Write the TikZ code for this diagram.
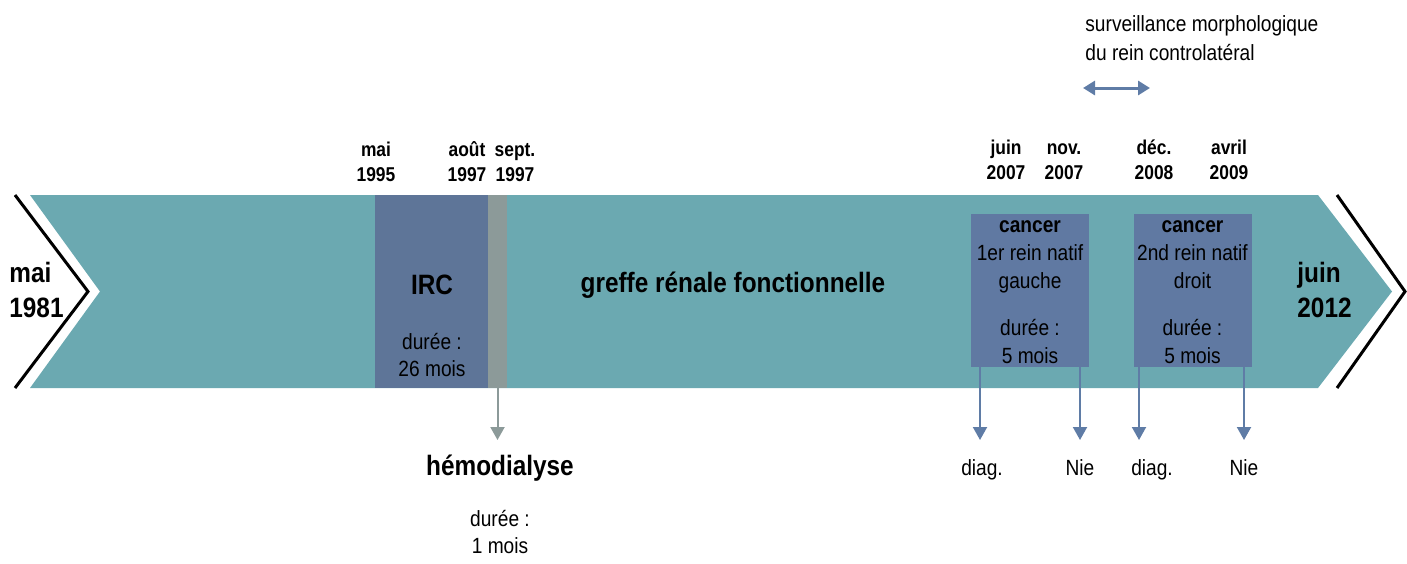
\documentclass[tikz,border=0pt]{standalone}
\usepackage{fontspec}
\setmainfont{Liberation Sans}[FakeStretch=0.87]
\usetikzlibrary{arrows.meta,positioning,calc}
\definecolor{Teal}{HTML}{6BA9B1}
\definecolor{Slate}{HTML}{5E7598}
\definecolor{Steel}{HTML}{6079A2}
\definecolor{Ash}{HTML}{8C9A99}
\definecolor{ArrowBlue}{HTML}{5F7CA6}

\begin{document}
\begin{tikzpicture}[x=0.5pt,y=-0.5pt,
  period/.style={fill=Slate,inner sep=0pt,minimum width=56.5pt,minimum height=96.5pt},
  dialysis/.style={fill=Ash,inner sep=0pt,minimum width=9.5pt,minimum height=96.5pt},
  cancerbox/.style={fill=Steel,inner sep=0pt,minimum width=59pt,minimum height=76.5pt},
  bigbold/.style={font=\bfseries\fontsize{14}{17.5}\selectfont,inner sep=1pt},
  datelbl/.style={font=\bfseries\fontsize{10}{12.5}\selectfont,align=center,inner sep=1pt},
  txt/.style={font=\fontsize{11}{13.5}\selectfont,align=center,inner sep=1pt},
  chevron/.style={line width=1.5pt,draw=black},
  down/.style={-{Triangle[length=6.5pt,width=7pt]},line width=1pt,draw=ArrowBlue},
  grayarrow/.style={-{Triangle[length=6.5pt,width=7pt]},line width=1pt,draw=Ash},
  both/.style={{Triangle[length=6pt,width=7pt]}-{Triangle[length=6pt,width=7pt]},line width=1.5pt,draw=ArrowBlue}
]
  \useasboundingbox (0,0) rectangle (1407,563);
  % timeline band
  \fill[Teal] (30,195) -- (1318,195) -- (1392,291.5) -- (1318,388) -- (30,388) -- (100,291.5) -- cycle;
  \draw[chevron] (15,195) -- (88,291.5) -- (15,388);
  \draw[chevron] (1337,195) -- (1405,291.5) -- (1337,388);
  % periods
  \node[period] (irc) at (431.5,291.5) {};
  \node[dialysis] (hd) at (497.5,291.5) {};
  \node[cancerbox] (c1) at (1030,290.5) {};
  \node[cancerbox] (c2) at (1192.5,290.5) {};
  % labels on the band
  \node[bigbold,align=left,anchor=west] (start) at (7,290) {mai\\1981};
  \node[bigbold,align=left,anchor=west] (stop) at (1295,290) {juin\\2012};
  \node[bigbold] (greffe) at (733,285) {greffe rénale fonctionnelle};
  \node[bigbold] (irclbl) at (432,285) {IRC};
  \node[txt] (ircdur) at (432,355) {durée :\\26 mois};
  \node[txt,font=\fontsize{11}{14.2}\selectfont] (c1txt) at (1030,292) {\textbf{cancer}\\1er rein natif\\gauche\\[9pt]durée :\\5 mois};
  \node[txt,font=\fontsize{11}{14.2}\selectfont] (c2txt) at (1192.5,292) {\textbf{cancer}\\2nd rein natif\\droit\\[9pt]durée :\\5 mois};
  % dates
  \node[datelbl] (d95) at (376,164) {\strut mai\\\strut 1995};
  \node[datelbl] (d97a) at (467,164) {\strut août\\\strut 1997};
  \node[datelbl] (d97s) at (515,164) {\strut sept.\\\strut 1997};
  \node[datelbl] (d07j) at (1006,162) {\strut juin\\\strut 2007};
  \node[datelbl] (d07n) at (1064,162) {\strut nov.\\\strut 2007};
  \node[datelbl] (d08) at (1154,162) {\strut déc.\\\strut 2008};
  \node[datelbl] (d09) at (1229,162) {\strut avril\\\strut 2009};
  % hemodialysis
  \node[bigbold] (hemo) at (500,468) {hémodialyse};
  \node[txt] (hemodur) at (500,532) {durée :\\1 mois};
  \coordinate (hdtip) at (497.5,440);
  \draw[grayarrow] (hd.south) -- (hdtip);
  % diagnosis and nephrectomy
  \node[txt,anchor=base] (diag1) at (982,475) {diag.};
  \node[txt,anchor=base] (nie1) at (1080,475) {Nie};
  \node[txt,anchor=base] (diag2) at (1152,475) {diag.};
  \node[txt,anchor=base] (nie2) at (1244,475) {Nie};
  \coordinate (t1) at (980,440);
  \coordinate (t2) at (1080,440);
  \coordinate (t3) at (1139,440);
  \coordinate (t4) at (1244,440);
  \draw[down] (c1.south -| t1) -- (t1);
  \draw[down] (c1.south -| t2) -- (t2);
  \draw[down] (c2.south -| t3) -- (t3);
  \draw[down] (c2.south -| t4) -- (t4);
  % follow-up
  \node[txt,align=left,anchor=west,font=\fontsize{11}{14.5}\selectfont] (surv) at (1083,38) {surveillance morphologique\\du rein controlatéral};
  \coordinate (sL) at (1083,88);
  \coordinate (sR) at (1150,88);
  \draw[both] (sL) -- (sR);
\end{tikzpicture}
\end{document}
